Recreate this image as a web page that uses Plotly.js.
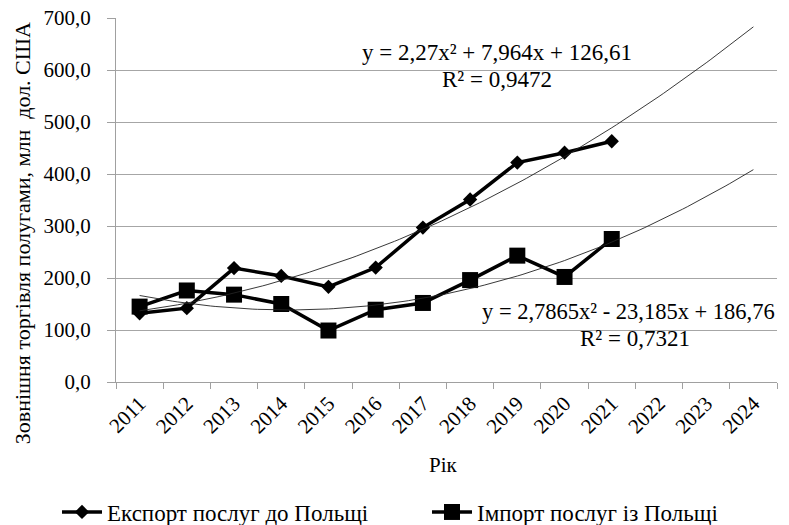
<!DOCTYPE html>
<html>
<head>
<meta charset="utf-8">
<script src="https://cdn.plot.ly/plotly-3.0.1.min.js"></script>
<style>
  html, body { margin: 0; padding: 0; background: #ffffff; }
  #chart { width: 789px; height: 525px; }
</style>
</head>
<body>
<div id="chart"></div>
<script>
// ---- data ----
const axisYears = ["2011","2012","2013","2014","2015","2016","2017","2018","2019","2020","2021","2022","2023","2024"];
const dataYears = ["2011","2012","2013","2014","2015","2016","2017","2018","2019","2020","2021"];
const exportValues = [132, 142, 219, 204, 183, 220, 297, 351, 422, 441, 463];
const importValues = [145, 176, 168, 150, 99, 139, 152, 196, 243, 202, 275];
// trendline coefficients shown on the chart: y = a*x^2 + b*x + c
const exportTrendCoef = [2.27, 7.964, 126.61];
const importTrendCoef = [2.7865, -23.185, 186.76];
const exportEqText = "y = 2,27x² + 7,964x + 126,61";
const exportR2Text = "R² = 0,9472";
const importEqText = "y = 2,7865x² - 23,185x + 186,76";
const importR2Text = "R² = 0,7321";
const exportName = "Експорт послуг до Польщі";
const importName = "Імпорт послуг із Польщі";
const yTitle = "Зовнішня торгівля полугами, млн\u00a0 дол. США";
const xTitle = "Рік";

// ---- build traces ----
const pos = y => axisYears.indexOf(y) + 1;
const dataX = dataYears.map(pos);
function trend(coef) {
  const xs = [], ys = [];
  for (let i = 0; i <= 130; i++) {
    const x = 1 + i * 0.1;
    xs.push(x);
    ys.push(coef[0] * x * x + coef[1] * x + coef[2]);
  }
  return { xs, ys };
}
const tE = trend(exportTrendCoef);
const tI = trend(importTrendCoef);

const FONT = "Liberation Serif, serif";

const traces = [
  { x: dataX, y: exportValues, name: exportName, type: "scatter", mode: "lines+markers", legend: "legend",
    line: { color: "#000000", width: 3.5 }, marker: { symbol: "diamond", size: 11, color: "#000000" } },
  { x: dataX, y: importValues, name: importName, type: "scatter", mode: "lines+markers", legend: "legend2",
    line: { color: "#000000", width: 3.5 }, marker: { symbol: "square", size: 16, color: "#000000" } },
  { x: tE.xs, y: tE.ys, type: "scatter", mode: "lines", showlegend: false, hoverinfo: "skip",
    line: { color: "#222222", width: 0.9 } },
  { x: tI.xs, y: tI.ys, type: "scatter", mode: "lines", showlegend: false, hoverinfo: "skip",
    line: { color: "#222222", width: 0.9 } }
];

const W = 789, H = 525;
const L = 116, R = 777, T = 18, B = 381.7;
const px = v => (v - L) / (R - L);
const py = v => (B - v) / (B - T);

const boundaries = [];
for (let i = 0; i <= axisYears.length; i++) boundaries.push(i + 0.5);

const legendBase = {
  orientation: "h", xref: "container", yref: "container",
  xanchor: "left", y: 1 - 512 / H, yanchor: "middle",
  itemwidth: 40,
  font: { family: FONT, size: 23, color: "#000000" },
  bgcolor: "rgba(0,0,0,0)", borderwidth: 0
};

const layout = {
  width: W, height: H,
  margin: { l: L, r: W - R, t: T, b: H - B, pad: 0 },
  paper_bgcolor: "#ffffff", plot_bgcolor: "#ffffff",
  separators: ", ",
  font: { family: FONT, color: "#000000", size: 20 },
  showlegend: true,
  xaxis: {
    type: "linear", range: [0.5, axisYears.length + 0.5], automargin: false,
    tickmode: "array", tickvals: axisYears.map((_, i) => i + 1), ticktext: axisYears,
    ticks: "", tickangle: -45, showgrid: false, zeroline: false,
    showline: true, linecolor: "#a0a0a0", linewidth: 1,
    tickfont: { family: FONT, size: 21, color: "#000000" },
    minor: { tickmode: "array", tickvals: boundaries, ticks: "outside", ticklen: 6, tickcolor: "#a0a0a0", tickwidth: 1, showgrid: false },
    fixedrange: true
  },
  yaxis: {
    range: [0, 700], tickmode: "linear", tick0: 0, dtick: 100, tickformat: ".1f", automargin: false,
    showgrid: true, gridcolor: "#a6a6a6", gridwidth: 1, zeroline: false,
    showline: true, linecolor: "#a0a0a0", linewidth: 1,
    ticks: "outside", ticklen: 8, tickcolor: "#a0a0a0",
    ticklabelstandoff: 12,
    tickfont: { family: FONT, size: 21, color: "#000000" },
    fixedrange: true
  },
  legend: Object.assign({}, legendBase, { x: 57 / W }),
  legend2: Object.assign({}, legendBase, { x: 427 / W }),
  annotations: [
    { text: yTitle, xref: "paper", yref: "paper", x: px(22), y: py(233), textangle: -90,
      showarrow: false, xanchor: "center", yanchor: "middle", font: { family: FONT, size: 22, color: "#000" } },
    { text: xTitle, xref: "paper", yref: "paper", x: px(443), y: py(465),
      showarrow: false, xanchor: "center", yanchor: "middle", font: { family: FONT, size: 21, color: "#000" } },
    { text: exportEqText, xref: "paper", yref: "paper", x: px(497), y: py(52),
      showarrow: false, xanchor: "center", yanchor: "middle", font: { family: FONT, size: 23, color: "#000" } },
    { text: exportR2Text, xref: "paper", yref: "paper", x: px(497), y: py(79),
      showarrow: false, xanchor: "center", yanchor: "middle", font: { family: FONT, size: 23, color: "#000" } },
    { text: importEqText, xref: "paper", yref: "paper", x: px(628), y: py(311),
      showarrow: false, xanchor: "center", yanchor: "middle", font: { family: FONT, size: 22.5, color: "#000" } },
    { text: importR2Text, xref: "paper", yref: "paper", x: px(635), y: py(338),
      showarrow: false, xanchor: "center", yanchor: "middle", font: { family: FONT, size: 23, color: "#000" } }
  ]
};

Plotly.newPlot("chart", traces, layout, { staticPlot: true, displayModeBar: false });
</script>
</body>
</html>
